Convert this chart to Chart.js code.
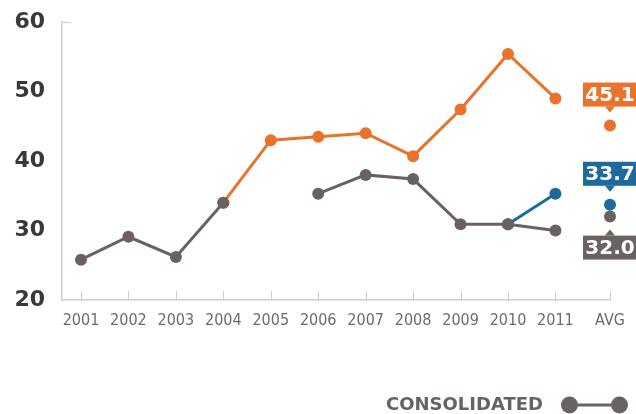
<!DOCTYPE html>
<html>
<head>
<meta charset="utf-8">
<script src="https://cdn.jsdelivr.net/npm/chart.js@4.4.1/dist/chart.umd.min.js"></script>
<style>
  html, body { margin: 0; background: #fff; }
  #wrap { width: 636px; height: 414px; }
</style>
</head>
<body>
<div id="wrap"><canvas id="trendChart" width="636" height="414"></canvas></div>
<script>
const years = [2001, 2002, 2003, 2004, 2005, 2006, 2007, 2008, 2009, 2010, 2011];
const AVG_X = 2012.15;
const yTicks = [20, 30, 40, 50, 60];

const consolidated = [25.8, 29.1, 26.2, 34.0, null, 35.3, 38.0, 37.4, 30.9, 30.9, 30.0];
const segmentA = [null, null, null, 34.0, 43.0, 43.5, 44.0, 40.7, 47.4, 55.4, 49.0];
const segmentB = [null, null, null, null, null, null, null, null, null, 30.9, 35.3];

const avgConsolidated = 32.0;
const avgSegmentA = 45.1;
const avgSegmentB = 33.7;

const GRAY = "#6a6260";
const ORANGE = "#e9732b";
const BLUE = "#1d6a9c";
const AXIS = "#cdcdcd";

const toPoints = (vals) => years.map((x, i) => ({ x, y: vals[i] }));

function lineDotIcon(color) {
  const c = document.createElement("canvas");
  c.width = 82;
  c.height = 20;
  const g = c.getContext("2d");
  g.strokeStyle = color;
  g.fillStyle = color;
  g.lineWidth = 3;
  g.beginPath();
  g.moveTo(17.5, 10);
  g.lineTo(67.5, 10);
  g.stroke();
  [17.5, 67.5].forEach((cx) => {
    g.beginPath();
    g.arc(cx, 10, 8.5, 0, Math.PI * 2);
    g.fill();
  });
  return c;
}

// short tick marks pointing into the plot area
const axisStubs = {
  id: "axisStubs",
  beforeDatasetsDraw(chart) {
    const { ctx } = chart;
    const x = chart.scales.x;
    const y = chart.scales.y;
    ctx.save();
    ctx.strokeStyle = AXIS;
    ctx.lineWidth = 1;
    ctx.beginPath();
    x.ticks.forEach((t) => {
      const px = Math.round(x.getPixelForValue(t.value)) + 0.5;
      ctx.moveTo(px, x.top);
      ctx.lineTo(px, x.top - 9);
    });
    const py = Math.round(y.getPixelForValue(y.max)) + 0.5;
    ctx.moveTo(y.right, py);
    ctx.lineTo(y.right + 9, py);
    ctx.stroke();
    ctx.restore();
  },
};

// value tags drawn next to the average markers
const avgTags = {
  id: "avgTags",
  afterDatasetsDraw(chart) {
    const ctx = chart.ctx;
    chart.data.datasets.forEach((ds, i) => {
      if (!ds.tagSide) return;
      const pt = chart.getDatasetMeta(i).data[0];
      const w = 54, h = 24, gap = 19, tip = 6;
      const top = ds.tagSide === "above" ? pt.y - gap - h : pt.y + gap;
      ctx.save();
      ctx.fillStyle = ds.borderColor;
      ctx.fillRect(pt.x - w / 2, top, w, h);
      ctx.beginPath();
      if (ds.tagSide === "above") {
        ctx.moveTo(pt.x - 5, top + h);
        ctx.lineTo(pt.x + 5, top + h);
        ctx.lineTo(pt.x, top + h + tip);
      } else {
        ctx.moveTo(pt.x - 5, top);
        ctx.lineTo(pt.x + 5, top);
        ctx.lineTo(pt.x, top - tip);
      }
      ctx.fill();
      ctx.fillStyle = "#fff";
      ctx.font = 'bold 20px "DejaVu Sans"';
      ctx.textAlign = "center";
      ctx.textBaseline = "middle";
      ctx.fillText(ds.data[0].y.toFixed(1), pt.x, top + h / 2 + 1);
      ctx.restore();
    });
  },
};

const lineStyle = (color) => ({
  borderColor: color,
  backgroundColor: color,
  pointBackgroundColor: color,
  borderWidth: 3,
  pointRadius: 6,
  pointBorderWidth: 0,
  clip: false,
});

const avgStyle = (color, side) => ({
  ...lineStyle(color),
  showLine: false,
  tagSide: side,
});

new Chart(document.getElementById("trendChart"), {
  type: "line",
  data: {
    datasets: [
      { label: "CONSOLIDATED", data: toPoints(consolidated), ...lineStyle(GRAY) },
      { label: "Segment A", data: toPoints(segmentA), ...lineStyle(ORANGE) },
      { label: "Segment B", data: toPoints(segmentB), ...lineStyle(BLUE) },
      { label: "Consolidated avg", data: [{ x: AVG_X, y: avgConsolidated }], ...avgStyle(GRAY, "below") },
      { label: "Segment A avg", data: [{ x: AVG_X, y: avgSegmentA }], ...avgStyle(ORANGE, "above") },
      { label: "Segment B avg", data: [{ x: AVG_X, y: avgSegmentB }], ...avgStyle(BLUE, "above") },
    ],
  },
  options: {
    responsive: false,
    animation: false,
    layout: { padding: { top: 22, left: 0, right: 0, bottom: -10 } },
    plugins: {
      tooltip: { enabled: false },
      legend: {
        position: "bottom",
        align: "start",
        rtl: true,
        labels: {
          filter: (item) => item.datasetIndex === 0,
          usePointStyle: true,
          pointStyle: lineDotIcon(GRAY),
          pointStyleWidth: 82,
          boxHeight: 18,
          padding: 2,
          color: GRAY,
          font: { family: '"DejaVu Sans"', weight: "bold", size: 18 },
        },
      },
    },
    scales: {
      x: {
        type: "linear",
        min: 2000.6,
        max: AVG_X,
        afterBuildTicks: (s) => {
          s.ticks = [...years, AVG_X].map((v) => ({ value: v }));
        },
        afterFit: (s) => {
          s.height = 94;
        },
        grid: { drawOnChartArea: false, tickLength: 11, color: "rgba(0,0,0,0)" },
        border: { color: AXIS, width: 1.5 },
        ticks: {
          padding: 0,
          autoSkip: false,
          maxRotation: 0,
          color: "#6f6a69",
          font: { family: '"Liberation Sans Narrow", "DejaVu Sans Condensed", sans-serif', size: 16 },
          callback: (v) => (v === AVG_X ? "AVG" : String(v)),
        },
      },
      y: {
        min: 20,
        max: 60,
        afterBuildTicks: (s) => {
          s.ticks = yTicks.map((v) => ({ value: v }));
        },
        afterFit: (s) => {
          s.width = 62;
        },
        grid: { drawOnChartArea: false, tickLength: 17, color: "rgba(0,0,0,0)" },
        border: { color: AXIS, width: 1.5 },
        ticks: {
          padding: 0,
          color: "#3b3838",
          font: { family: '"DejaVu Sans"', weight: "bold", size: 22 },
        },
      },
      pad: {
        type: "linear",
        axis: "y",
        position: "right",
        grid: { display: false },
        border: { display: false },
        ticks: { display: false },
        afterFit: (s) => {
          s.width = 26;
        },
      },
    },
  },
  plugins: [axisStubs, avgTags],
});
</script>
</body>
</html>
